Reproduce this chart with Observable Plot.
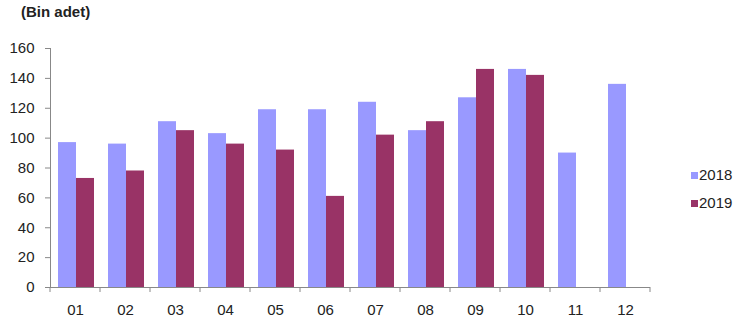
<!DOCTYPE html>
<html>
<head>
<meta charset="utf-8">
<script src="https://cdn.jsdelivr.net/npm/d3@7"></script>
<script src="https://cdn.jsdelivr.net/npm/@observablehq/plot@0.6"></script>
<style>
  html, body { margin: 0; padding: 0; background: #fff; }
  #wrap { position: relative; width: 746px; height: 322px; font-family: "Liberation Sans", Arial, sans-serif; }
  #title { position: absolute; left: 21px; top: 3px; font-size: 15px; font-weight: bold; color: #222; }
  #legend { position: absolute; left: 691px; top: 161px; font-size: 15px; color: #222; }
  #legend div { display: flex; align-items: center; height: 28px; line-height: 18px; }
  #legend span.sw { display: inline-block; width: 7px; height: 7px; margin-right: 1px; }
  svg { display: block; }
</style>
</head>
<body>
<div id="wrap">
  <div id="chart"></div>
  <div id="title">(Bin adet)</div>
  <div id="legend"></div>
</div>
<script>
const months = ["01","02","03","04","05","06","07","08","09","10","11","12"];
const values2018 = [97, 96, 111, 103, 119, 119, 124, 105, 127, 146, 90, 136];
const values2019 = [73, 78, 105, 96, 92, 61, 102, 111, 146, 142, null, null];
const seriesNames = ["2018", "2019"];
const seriesColors = ["#9999FF", "#993366"];
const yTicks = [0, 20, 40, 60, 80, 100, 120, 140, 160];

const d18 = months.map((m, i) => ({month: m, value: values2018[i]}));
const d19 = months.map((m, i) => ({month: m, value: values2019[i]})).filter(d => d.value != null);

const plot = Plot.plot({
  width: 746,
  height: 322,
  marginLeft: 50,
  marginRight: 96,
  marginTop: 48,
  marginBottom: 35,
  style: {fontFamily: "Liberation Sans, Arial, sans-serif", fontSize: "15px", color: "#222", background: "#fff"},
  x: {domain: months, padding: 0, label: null},
  y: {domain: [0, 160], label: null},
  marks: [
    Plot.barY(d18, {x: "month", y: "value", fill: seriesColors[0], insetLeft: 8, insetRight: 24}),
    Plot.barY(d19, {x: "month", y: "value", fill: seriesColors[1], insetLeft: 26, insetRight: 6}),
    Plot.axisY({ticks: yTicks, tickSize: 5, tickPadding: 11, stroke: "#888", fill: "#222"}),
    Plot.axisX({tickSize: 0, tickPadding: 17, fill: "#222"}),
    Plot.ruleX([0], {x: () => months[0], stroke: "#888", dx: -25, y1: 0, y2: 160}),
    Plot.ruleY([0], {stroke: "#888"})
  ]
});
document.getElementById("chart").appendChild(plot);

// boundary ticks on x axis, positioned via the x scale
const xs = plot.scale("x");
const ys = plot.scale("y");
const y0 = ys.apply(0);
const bounds = months.map(m => xs.apply(m)).concat([xs.apply(months[months.length - 1]) + xs.bandwidth]);
d3.select(plot).append("g")
  .attr("stroke", "#888")
  .selectAll("line").data(bounds).join("line")
  .attr("x1", d => d).attr("x2", d => d)
  .attr("y1", y0).attr("y2", y0 + 5);

// legend
const lg = d3.select("#legend");
seriesNames.forEach((s, i) => {
  const row = lg.append("div");
  row.append("span").attr("class", "sw").style("background", seriesColors[i]);
  row.append("span").text(s);
});
</script>
</body>
</html>
